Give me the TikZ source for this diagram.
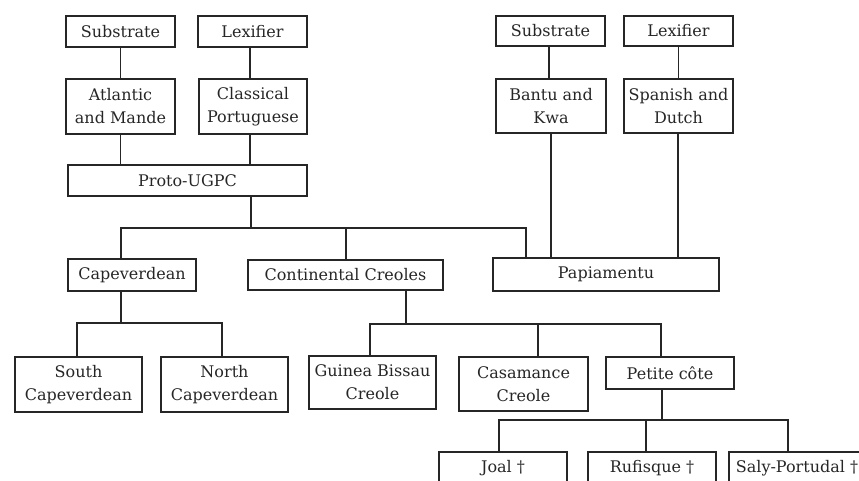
\documentclass[tikz,border=0pt]{standalone}
\usepackage{fontspec}
\setmainfont{DejaVu Serif}
\begin{document}
\begin{tikzpicture}[x=1pt,y=-1pt,
  ink/.style={draw=black!85, line width=1.1pt},
  box/.style={ink, inner sep=0pt, align=center, text=black!85,
    font=\fontsize{16}{23}\selectfont},
  one/.style={box, minimum height=31pt},
  two/.style={box, minimum height=55pt},
  link/.style={ink}]
\useasboundingbox (0,0) rectangle (859,481);
\clip (0,0) rectangle (859,481);
% left top
\node[one, minimum width=109pt] (sub1) at (120.5,31.5) {Substrate};
\node[one, minimum width=109pt] (lex1) at (252.5,31.5) {Lexifier};
\node[two, minimum width=109pt] (atl) at (120.5,106.5) {Atlantic\\and Mande};
\node[two, minimum width=108pt] (cla) at (253,106.5) {Classical\\Portuguese};
\node[one, minimum width=239pt] (proto) at (187.5,180.5) {Proto-UGPC};
% right top
\node[one, minimum width=109pt, minimum height=30pt] (sub2) at (550.5,31) {Substrate};
\node[one, minimum width=109pt, minimum height=30pt] (lex2) at (678.5,31) {Lexifier};
\node[two, minimum width=110pt, minimum height=54pt] (bantu) at (551,106) {Bantu and\\Kwa};
\node[two, minimum width=109pt, minimum height=54pt] (span) at (678.5,106) {Spanish and\\Dutch};
% middle row
\node[one, minimum width=226pt, minimum height=33pt] (pap) at (606,274.5) {Papiamentu};
\node[one, minimum width=128pt, minimum height=32pt] (cape) at (132,275) {Capeverdean};
\node[one, minimum width=195pt, minimum height=30pt] (cont) at (345.5,275) {Continental Creoles};
% lower rows
\node[two, minimum width=127pt] (south) at (78.5,384.5) {South\\Capeverdean};
\node[two, minimum width=127pt] (north) at (224.5,384.5) {North\\Capeverdean};
\node[two, minimum width=127pt, minimum height=53pt] (guinea) at (372.5,382.5) {Guinea Bissau\\Creole};
\node[two, minimum width=129pt, minimum height=54pt] (casa) at (523.5,384) {Casamance\\Creole};
\node[one, minimum width=128pt, minimum height=32pt] (pet) at (670,373) {Petite côte};
\node[one, minimum width=128pt, minimum height=32pt] (joal) at (503,468) {Joal †};
\node[one, minimum width=128pt, minimum height=32pt] (ruf) at (652,468) {Rufisque †};
\node[one, minimum width=136pt, minimum height=32pt] (saly) at (797,468) {Saly-Portudal †};
% junction coordinates
\coordinate (j1) at (251,228);
\coordinate (j1l) at (121,228);
\coordinate (j1c) at (346,228);
\coordinate (j1r) at (526,228);
\coordinate (j2) at (121,323);
\coordinate (j2l) at (77,323);
\coordinate (j2r) at (222,323);
\coordinate (j3) at (406,324);
\coordinate (j3l) at (370,324);
\coordinate (j3c) at (538,324);
\coordinate (j3r) at (661,324);
\coordinate (j4) at (662,420);
\coordinate (j4l) at (499,420);
\coordinate (j4c) at (646,420);
\coordinate (j4r) at (788,420);
% connectors top left
\draw[link] (sub1) -- (atl);
\draw[link] (lex1.south -| 250,0) -- (cla.north -| 250,0);
\draw[link] (atl) -- (atl |- proto.north);
\draw[link] (cla.south -| 250,0) -- (proto.north -| 250,0);
% top right
\draw[link] (sub2.south -| 549,0) -- (bantu.north -| 549,0);
\draw[link] (lex2) -- (span);
\draw[link] (bantu) -- (bantu |- pap.north);
\draw[link] (span.south -| 678,0) -- (pap.north -| 678,0);
% proto tree
\draw[link] (proto.south -| j1) -- (j1);
\draw[link] (j1l |- cape.north) -- (j1l) -- (j1r) -- (j1r |- pap.north);
\draw[link] (j1c) -- (j1c |- cont.north);
% capeverdean tree
\draw[link] (cape.south -| j2) -- (j2);
\draw[link] (j2l |- south.north) -- (j2l) -- (j2r) -- (j2r |- north.north);
% continental tree
\draw[link] (cont.south -| j3) -- (j3);
\draw[link] (j3l |- guinea.north) -- (j3l) -- (j3r) -- (j3r |- pet.north);
\draw[link] (j3c) -- (j3c |- casa.north);
% petite cote tree
\draw[link] (pet.south -| j4) -- (j4);
\draw[link] (j4l |- joal.north) -- (j4l) -- (j4r) -- (j4r |- saly.north);
\draw[link] (j4c) -- (j4c |- ruf.north);
\end{tikzpicture}
\end{document}
